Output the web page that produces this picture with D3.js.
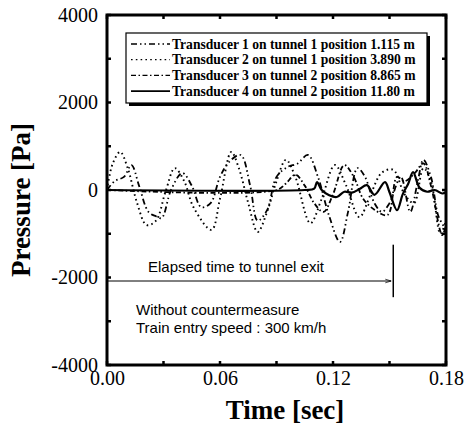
<!DOCTYPE html>
<html>
<head>
<meta charset="utf-8">
<script src="https://cdn.jsdelivr.net/npm/d3@7"></script>
<style>
  body { margin: 0; background: #fff; }
  svg { display: block; }
</style>
</head>
<body>
<div class="viewport"></div>
<script>
// values: [time s, pressure Pa]
const transducer1 = [
  [0, 0], [0.004, 200], [0.009, 300], [0.013, 570], [0.017, 100], [0.022, -500],
  [0.026, -600], [0.029, -640], [0.034, 0], [0.040, 390], [0.045, 100], [0.050, -390],
  [0.055, -300], [0.060, 300], [0.065, 650], [0.071, 800], [0.076, 100], [0.080, -700],
  [0.085, -460], [0.090, 300], [0.096, 530], [0.101, 600], [0.1067, 800], [0.112, 300],
  [0.118, -600], [0.1237, -1190], [0.128, -500], [0.133, 500], [0.137, 300], [0.142, -300],
  [0.146, -500], [0.150, -300], [0.156, 300], [0.161, -500], [0.165, 200], [0.168, 690],
  [0.172, 300], [0.176, -600], [0.180, -900]
];
const transducer2 = [
  [0, 0], [0.003, 600], [0.007, 870], [0.011, 500], [0.016, -300], [0.021, -800],
  [0.026, -700], [0.031, -50], [0.036, 500], [0.041, 200], [0.046, -400], [0.0555, -910],
  [0.060, -200], [0.066, 870], [0.070, 500], [0.075, -300], [0.080, -960], [0.085, -500],
  [0.090, 200], [0.095, 690], [0.100, 300], [0.108, -760], [0.114, -200], [0.121, 570],
  [0.127, 100], [0.134, -620], [0.140, -100], [0.146, 400], [0.152, 460], [0.158, -100],
  [0.163, -300], [0.168, 500], [0.172, 200], [0.177, -1000], [0.180, -700]
];
const transducer3 = [
  [0, 0], [0.090, 0], [0.095, 150], [0.100, 350], [0.105, 100], [0.110, -300],
  [0.115, -500], [0.120, -100], [0.126, 570], [0.131, 300], [0.136, -200], [0.142, -450],
  [0.149, -570], [0.154, 300], [0.158, 200], [0.1635, 390], [0.168, 610], [0.172, 100],
  [0.178, -1030], [0.180, -800]
];
const transducer4 = [
  [0, 0], [0.105, 0], [0.110, 30], [0.1115, 180], [0.114, 0], [0.118, -120],
  [0.122, -160], [0.126, -40], [0.130, -60], [0.134, 20], [0.138, 110], [0.142, -110],
  [0.1476, 180], [0.150, -50], [0.154, -460], [0.157, -100], [0.160, 150], [0.1625, 410],
  [0.166, 50], [0.170, -40], [0.174, 0], [0.178, -80], [0.180, -50]
];

const legendLabels = [
  "Transducer 1 on tunnel 1 position 1.115 m",
  "Transducer 2 on tunnel 1 position 3.890 m",
  "Transducer 3 on tunnel 2 position 8.865 m",
  "Transducer 4 on tunnel 2 position 11.80 m"
];
const xTicks = [0, 0.06, 0.12, 0.18];
const xMinor = [0.03, 0.09, 0.15];
const yTicks = [-4000, -2000, 0, 2000, 4000];
const yMinor = [-3000, -1000, 1000, 3000];

const exitTime = 0.152;
const arrowLevel = -2080;

const W = 467, H = 436;
const margin = { left: 107, top: 15, right: 21, bottom: 71 };
const iw = W - margin.left - margin.right;
const ih = H - margin.top - margin.bottom;

const x = d3.scaleLinear().domain([0, 0.18]).range([0, iw]);
const y = d3.scaleLinear().domain([-4000, 4000]).range([ih, 0]);

const svg = d3.select(".viewport").append("svg")
  .attr("width", W).attr("height", H);
svg.append("rect").attr("width", W).attr("height", H).attr("fill", "#fff");

svg.append("defs").append("marker")
  .attr("id", "arrow").attr("viewBox", "0 0 10 10")
  .attr("refX", 10).attr("refY", 5)
  .attr("markerWidth", 6).attr("markerHeight", 6)
  .attr("orient", "auto")
  .append("path").attr("d", "M0,2 L10,5 L0,8").attr("fill", "none")
  .attr("stroke", "#000").attr("stroke-width", 1.2);

const g = svg.append("g")
  .attr("transform", "translate(" + margin.left + "," + margin.top + ")");

const serif = "'Liberation Serif', 'Times New Roman', serif";
const sans = "'Liberation Sans', Arial, sans-serif";

// series
const line = d3.line()
  .x(d => x(d[0])).y(d => y(d[1]))
  .curve(d3.curveCatmullRom.alpha(0.5));

const styles = [
  { data: transducer1, dash: "6,3,1.5,3,1.5,3", width: 1.8 },
  { data: transducer2, dash: "1.6,3.2", width: 1.9 },
  { data: transducer3, dash: "5,2.5,1.5,2.5", width: 1.8 },
  { data: transducer4, dash: null, width: 2.2 }
];

g.append("g")
  .selectAll("path")
  .data(styles)
  .enter()
  .append("path")
  .attr("d", d => line(d.data))
  .attr("fill", "none")
  .attr("stroke", "#000")
  .attr("stroke-width", d => d.width)
  .attr("stroke-dasharray", d => d.dash);

// ticks inside, all four sides
const tickLen = 4;
const allX = xTicks.concat(xMinor);
const allY = yTicks.concat(yMinor);
const ticks = g.append("g").attr("stroke", "#000").attr("stroke-width", 2.5);
allX.forEach(t => {
  ticks.append("line").attr("x1", x(t)).attr("x2", x(t)).attr("y1", ih).attr("y2", ih - tickLen);
  ticks.append("line").attr("x1", x(t)).attr("x2", x(t)).attr("y1", 0).attr("y2", tickLen);
});
allY.forEach(v => {
  ticks.append("line").attr("x1", 0).attr("x2", tickLen).attr("y1", y(v)).attr("y2", y(v));
  ticks.append("line").attr("x1", iw).attr("x2", iw - tickLen).attr("y1", y(v)).attr("y2", y(v));
});

// frame
g.append("rect")
  .attr("width", iw).attr("height", ih)
  .attr("fill", "none").attr("stroke", "#000").attr("stroke-width", 3);

// axis labels
const xAxis = d3.axisBottom(x).tickValues(xTicks).tickSize(0).tickPadding(6)
  .tickFormat(d3.format(".2f"));
const xa = g.append("g").attr("transform", "translate(0," + ih + ")").call(xAxis);
xa.select(".domain").remove();
xa.selectAll("text").attr("font-family", serif).attr("font-size", 20).attr("fill", "#000");

const yAxis = d3.axisLeft(y).tickValues(yTicks).tickSize(0).tickPadding(9)
  .tickFormat(d => String(d));
const ya = g.append("g").call(yAxis);
ya.select(".domain").remove();
ya.selectAll("text").attr("font-family", serif).attr("font-size", 20).attr("fill", "#000");

svg.append("text")
  .attr("x", 285).attr("y", 419)
  .attr("text-anchor", "middle")
  .attr("font-family", serif).attr("font-weight", "bold").attr("font-size", 27)
  .text("Time [sec]");

svg.append("text")
  .attr("transform", "translate(30,200) rotate(-90)")
  .attr("text-anchor", "middle")
  .attr("font-family", serif).attr("font-weight", "bold").attr("font-size", 27)
  .text("Pressure [Pa]");

// annotation
g.append("line")
  .attr("x1", x(0)).attr("x2", x(exitTime) - 2)
  .attr("y1", y(arrowLevel)).attr("y2", y(arrowLevel))
  .attr("stroke", "#000").attr("stroke-width", 1)
  .attr("marker-end", "url(#arrow)");
g.append("line")
  .attr("x1", x(exitTime)).attr("x2", x(exitTime))
  .attr("y1", y(-1250)).attr("y2", y(-2450))
  .attr("stroke", "#000").attr("stroke-width", 1.5);
g.append("text")
  .attr("x", 41).attr("y", 257)
  .attr("font-family", sans).attr("font-size", 15)
  .text("Elapsed time to tunnel exit");
g.append("text")
  .attr("x", 29).attr("y", 300)
  .attr("font-family", sans).attr("font-size", 15)
  .text("Without countermeasure");
g.append("text")
  .attr("x", 29).attr("y", 318)
  .attr("font-family", sans).attr("font-size", 15)
  .text("Train entry speed : 300 km/h");

// legend
const lg = svg.append("g").attr("transform", "translate(126,33)");
lg.append("rect").attr("x", 3).attr("y", 3).attr("width", 301).attr("height", 70).attr("fill", "#000");
lg.append("rect").attr("width", 301).attr("height", 70)
  .attr("fill", "#fff").attr("stroke", "#000").attr("stroke-width", 1.2);

const rows = lg.selectAll("g.row")
  .data(legendLabels)
  .enter()
  .append("g")
  .attr("class", "row")
  .attr("transform", (d, i) => "translate(0," + (11 + i * 15.7) + ")");
rows.append("line")
  .attr("x1", 5).attr("x2", 44).attr("y1", 0).attr("y2", 0)
  .attr("stroke", "#000")
  .attr("stroke-width", (d, i) => i === 3 ? 1.6 : 1.3)
  .attr("stroke-dasharray", (d, i) => styles[i].dash);
rows.append("text")
  .attr("x", 46).attr("y", 4.5)
  .attr("font-family", serif).attr("font-weight", "bold").attr("font-size", 13.6)
  .text(d => d);
</script>
</body>
</html>
